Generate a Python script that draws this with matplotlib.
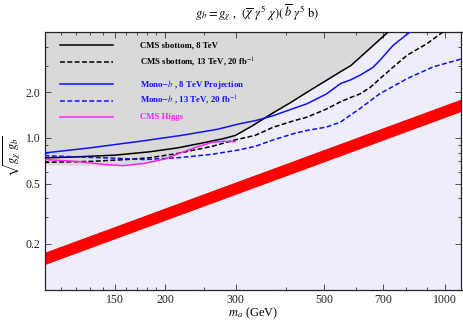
import numpy as np
import matplotlib
matplotlib.use('Agg')
import matplotlib.pyplot as plt
from matplotlib.ticker import FixedLocator, NullFormatter

plt.rcParams['font.family'] = ['Liberation Serif', 'DejaVu Serif']
plt.rcParams['mathtext.fontset'] = 'stix'

# CMS sbottom, 8 TeV
sb8_m = [100, 120, 150, 183, 215, 250, 280, 300, 330, 370, 410, 452, 506, 548, 582, 650, 721, 760]
sb8_g = [0.738, 0.75, 0.77, 0.81, 0.86, 0.93, 0.99, 1.04, 1.2, 1.45, 1.7, 2.0, 2.4, 2.73, 3.0, 3.9, 5.0, 5.6]

# CMS sbottom, 13 TeV, 20 fb-1
sb13_m = [100, 130, 160, 183, 215, 262, 299, 336, 372, 420, 452, 506, 548, 582, 613, 650, 688, 750, 804, 902, 989, 1050]
sb13_g = [0.69, 0.70, 0.72, 0.74, 0.79, 0.88, 0.97, 1.04, 1.175, 1.3, 1.37, 1.55, 1.73, 1.85, 1.95, 2.15, 2.46, 3.0, 3.51, 4.19, 5.0, 5.6]

# Mono-b, 8 TeV projection
mb8_m = [100, 130, 178, 220, 270, 307, 336, 372, 420, 452, 506, 548, 582, 613, 660, 688, 742, 818, 850]
mb8_g = [0.796, 0.86, 0.96, 1.04, 1.14, 1.24, 1.30, 1.40, 1.57, 1.68, 1.95, 2.28, 2.42, 2.59, 2.91, 3.25, 4.08, 5.0, 5.5]

# Mono-b, 13 TeV, 20 fb-1
mb13_m = [100, 120, 150, 178, 215, 262, 307, 336, 372, 420, 452, 506, 548, 582, 613, 688, 804, 933, 1100]
mb13_g = [0.764, 0.75, 0.735, 0.72, 0.74, 0.78, 0.835, 0.88, 0.97, 1.07, 1.12, 1.18, 1.27, 1.42, 1.56, 1.96, 2.46, 2.94, 3.32]

# CMS Higgs
hig_m = [100, 120, 140, 157, 178, 200, 215, 240, 262, 280, 299]
hig_g = [0.72, 0.70, 0.67, 0.656, 0.68, 0.727, 0.784, 0.87, 0.935, 0.95, 0.945]

# excluded region (grey), lower edge
excl_m = [100, 157, 178, 200, 215, 240, 262, 280, 299, 299.5, 330, 370, 410, 452, 506, 548, 582, 650, 721, 760]
excl_g = [0.665, 0.656, 0.68, 0.727, 0.784, 0.87, 0.935, 0.95, 0.945, 1.04, 1.2, 1.45, 1.7, 2.0, 2.4, 2.73, 3.0, 3.9, 5.0, 5.6]

# red band
band_m = [100, 1100]
band_lo = [0.146, 1.50]
band_hi = [0.176, 1.81]

xticks = [150, 200, 300, 500, 700, 1000]
xminor = [110, 120, 130, 140, 160, 170, 180, 190, 250, 400, 600, 800, 900]
yticks = [0.2, 0.5, 1.0, 2.0]
ylabels = ['0.2', '0.5', '1.0', '2.0']
yminor = [0.3, 0.4, 0.6, 0.7, 0.8, 0.9, 3, 4]

legend_items = [
    ('CMS sbottom, 8 TeV', 'black', '-'),
    ('CMS sbottom, 13 TeV, 20 fb$^{-1}$', 'black', '--'),
    ('Mono$-b$ , 8 TeV Projection', '#1010FF', '-'),
    ('Mono$-b$ , 13 TeV, 20 fb$^{-1}$', '#1010FF', '--'),
    ('CMS Higgs', '#FF20FF', '-'),
]
legend_y = [0.9495, 0.882, 0.797, 0.733, 0.669]

fig = plt.figure(figsize=(4.63, 3.22), dpi=100)
ax = fig.add_axes([44.5 / 463, 1 - 289.5 / 322, 417 / 463, 257.5 / 322])
ax.set_facecolor('#EEEEFB')
ax.set_xscale('log')
ax.set_yscale('log')
ax.set_xlim(100, 1100)
ax.set_ylim(0.1, 5)

ax.fill_between(excl_m, excl_g, 10, color='#D9D9D9', lw=0, zorder=1)
ax.fill_between(band_m, band_lo, band_hi, color='#FF0000', lw=0, zorder=2)

dash = (0, (3.2, 1.6))
ax.plot(sb8_m, sb8_g, color='black', lw=1.1, zorder=4)
ax.plot(sb13_m, sb13_g, color='black', lw=1.1, ls=dash, zorder=4)
ax.plot(mb8_m, mb8_g, color='#1010FF', lw=1.1, zorder=4)
ax.plot(mb13_m, mb13_g, color='#1010FF', lw=1.1, ls=dash, zorder=4)
ax.plot(hig_m, hig_g, color='#FF20FF', lw=1.1, zorder=4)

# legend drawn by hand
for (lab, col, ls), yy in zip(legend_items, legend_y):
    ax.plot([0.037, 0.164], [yy, yy], transform=ax.transAxes, color=col,
            ls=dash if ls == '--' else '-', lw=1.1, zorder=5)
    ax.text(0.229, yy, lab, transform=ax.transAxes, color=col, fontsize=6.3,
            fontweight='bold', va='center', ha='left', zorder=5)

ax.xaxis.set_major_locator(FixedLocator(xticks))
ax.xaxis.set_minor_locator(FixedLocator(xminor))
ax.set_xticklabels([str(t) for t in xticks])
ax.xaxis.set_minor_formatter(NullFormatter())
ax.yaxis.set_major_locator(FixedLocator(yticks))
ax.yaxis.set_minor_locator(FixedLocator(yminor))
ax.set_yticklabels(ylabels)
ax.yaxis.set_minor_formatter(NullFormatter())
ax.tick_params(which='both', direction='in', top=True, right=True,
               labelsize=8.5, width=0.6, colors='#333333', labelcolor='#222222')
ax.tick_params(which='major', length=4, pad=3)
ax.tick_params(which='minor', length=2)
for s in ax.spines.values():
    s.set_linewidth(0.9)
    s.set_color('#222222')

fig.text(257.5 / 463, 1 - 12.5 / 322,
         r'$g_b = g_\chi$ ,  $(\overline{\chi}\ \gamma^5\ \chi)(\,\overline{b}\ \gamma^5\ \mathrm{b})$',
         ha='center', va='center', fontsize=9)
fig.text(253 / 463, 1 - 313 / 322, r'$m_a$ (GeV)', ha='center', va='center', fontsize=9)
fig.text(12 / 463, 1 - 156 / 322, r'$\sqrt{g_\chi\ g_b}$', ha='center', va='center',
         fontsize=9, rotation=90)

fig.savefig('out.png', dpi=100)
